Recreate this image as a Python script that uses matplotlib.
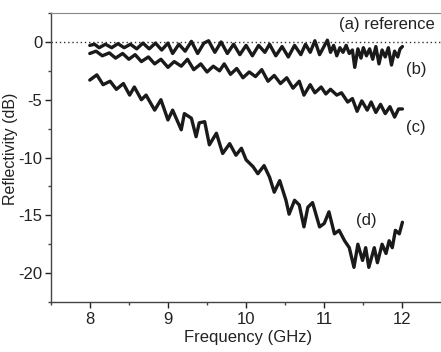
import matplotlib
matplotlib.use("Agg")
import matplotlib.pyplot as plt
from matplotlib.ticker import MultipleLocator

plt.rcParams['font.family'] = ['Liberation Sans', 'DejaVu Sans']
plt.rcParams['axes.unicode_minus'] = False

# curve (b): top wiggly trace
freq_b = [8.0, 8.06, 8.12, 8.2, 8.28, 8.36, 8.44, 8.52, 8.6, 8.68, 8.76, 8.84, 8.92,
          9.0, 9.06, 9.14, 9.22, 9.3, 9.38, 9.46, 9.52, 9.6, 9.68, 9.76, 9.84, 9.92,
          10.0, 10.08, 10.16, 10.24, 10.3, 10.38, 10.46, 10.54, 10.62, 10.7, 10.76,
          10.82, 10.88, 10.94, 10.98, 11.04, 11.08, 11.12, 11.16, 11.2, 11.24, 11.28,
          11.32, 11.36, 11.39, 11.43, 11.47, 11.5, 11.54, 11.58, 11.62, 11.66, 11.7,
          11.74, 11.78, 11.82, 11.86, 11.9, 11.94, 11.97, 12.0]
refl_b = [-0.3, -0.2, -0.5, -0.2, -0.5, -0.15, -0.5, -0.2, -0.6, -0.1, -0.6, -0.1, -0.7,
          -0.1, -1.0, -0.2, -0.8, 0.05, -1.0, -0.1, 0.1, -0.9, 0.0, -1.0, -0.2, -1.1,
          -0.3, -1.2, -0.3, -0.9, -0.2, -1.2, -0.4, -1.3, -0.3, -1.1, -0.2,
          -0.9, 0.1, -1.1, -0.6, 0.15, -0.9, -0.3, -1.2, -0.5, -0.9, -0.3,
          -1.0, -0.7, -2.2, -0.6, -1.4, -0.5, -1.2, -0.6, -1.5, -0.4, -1.9,
          -0.7, -1.3, -0.5, -2.0, -0.8, -1.3, -0.6, -0.4]

# curve (c): middle trace
freq_c = [8.0, 8.08, 8.16, 8.25, 8.33, 8.42, 8.5, 8.58, 8.66, 8.75, 8.83, 8.91,
          9.0, 9.08, 9.17, 9.25, 9.33, 9.42, 9.5, 9.58, 9.66, 9.72, 9.8, 9.88, 9.96,
          10.04, 10.12, 10.2, 10.28, 10.36, 10.44, 10.52, 10.6, 10.68, 10.74, 10.82,
          10.88, 10.96, 11.02, 11.08, 11.16, 11.22, 11.3, 11.36, 11.42, 11.48, 11.55,
          11.6, 11.66, 11.72, 11.78, 11.84, 11.9, 11.95, 12.0]
refl_c = [-1.0, -0.8, -1.2, -0.95, -1.4, -1.0, -1.5, -1.1, -1.7, -1.3, -1.9, -1.5,
          -2.2, -1.7, -2.1, -1.5, -2.4, -1.9, -2.6, -2.1, -2.5, -1.9, -2.8, -2.3, -3.1,
          -2.6, -3.0, -2.4, -3.4, -2.9, -3.6, -3.1, -4.0, -3.4, -4.6, -3.7,
          -4.4, -3.9, -4.5, -4.1, -4.6, -4.4, -5.2, -4.9, -6.0, -5.1, -5.9,
          -5.2, -6.1, -5.4, -6.2, -5.6, -6.5, -5.8, -5.8]

# curve (d): bottom trace
freq_d = [8.0, 8.09, 8.17, 8.26, 8.34, 8.43, 8.51, 8.57, 8.66, 8.72, 8.83, 8.91,
          9.0, 9.06, 9.17, 9.21, 9.3, 9.36, 9.4, 9.47, 9.53, 9.62, 9.7, 9.79, 9.87,
          9.94, 10.0, 10.09, 10.15, 10.23, 10.3, 10.36, 10.43, 10.51, 10.55, 10.62,
          10.68, 10.74, 10.79, 10.85, 10.94, 11.0, 11.06, 11.13, 11.19, 11.26, 11.32,
          11.38, 11.43, 11.49, 11.53, 11.57, 11.64, 11.68, 11.74, 11.79, 11.83, 11.87,
          11.91, 11.96, 12.0]
refl_d = [-3.3, -2.85, -3.7, -3.4, -4.1, -3.6, -4.6, -3.9, -5.0, -4.6, -5.9, -5.0,
          -6.75, -5.9, -7.6, -6.2, -6.6, -8.2, -7.0, -6.9, -8.9, -7.9, -9.65, -8.8, -9.8,
          -9.2, -10.2, -10.8, -11.4, -10.7, -11.7, -13.0, -12.0, -13.7, -14.9, -13.7,
          -14.1, -16.0, -14.3, -13.9, -16.0, -15.7, -14.7, -16.6, -16.3, -17.2, -17.8,
          -19.5, -17.5, -18.9, -17.8, -19.5, -17.8, -19.1, -17.5, -18.3, -17.2, -17.8,
          -16.3, -16.6, -15.6]

# reference level (a)
ref_level = 0.0

labels = ["(a) reference", "(b)", "(c)", "(d)"]

fig = plt.figure(figsize=(4.41, 3.52), dpi=100)
ax = fig.add_axes([0.115, 0.142, 0.895, 0.821])

ax.axhline(ref_level, color="#333333", lw=1.0, ls=(0, (1, 2)))
for f, r in [(freq_b, refl_b), (freq_c, refl_c), (freq_d, refl_d)]:
    ax.plot(f, r, color="#1a1a1a", lw=2.4, solid_joinstyle="round", solid_capstyle="round")

ax.set_xlim(7.5, 12.55)
ax.set_ylim(-22.5, 2.5)
ax.xaxis.set_major_locator(MultipleLocator(1))
ax.xaxis.set_minor_locator(MultipleLocator(0.5))
ax.yaxis.set_major_locator(MultipleLocator(5))
ax.yaxis.set_minor_locator(MultipleLocator(2.5))
ax.set_xticks([8, 9, 10, 11, 12])
ax.tick_params(which="major", direction="out", length=4, width=1, labelsize=12, colors="#222222")
ax.tick_params(which="minor", direction="out", length=2.5, width=1, colors="#444444")
ax.tick_params(axis="y", which="major", pad=2)

for side in ["left", "bottom"]:
    ax.spines[side].set_color("#444444")
    ax.spines[side].set_linewidth(1.0)
ax.spines["top"].set_color("#888888")
ax.spines["top"].set_linewidth(0.8)
ax.spines["right"].set_visible(False)

ax.set_xlabel("Frequency (GHz)", fontsize=12, color="#222222", labelpad=2)
ax.set_ylabel("Reflectivity (dB)", fontsize=11.5, color="#222222")
ax.yaxis.set_label_coords(-0.083, 0.53)

ax.text(11.19, 1.5, labels[0], fontsize=12, va="center", ha="left", color="#222222")
ax.text(12.05, -2.4, labels[1], fontsize=12, va="center", ha="left", color="#222222")
ax.text(12.05, -7.4, labels[2], fontsize=12, va="center", ha="left", color="#222222")
ax.text(11.41, -15.45, labels[3], fontsize=12, va="center", ha="left", color="#222222")

fig.savefig("out.png", dpi=100)
